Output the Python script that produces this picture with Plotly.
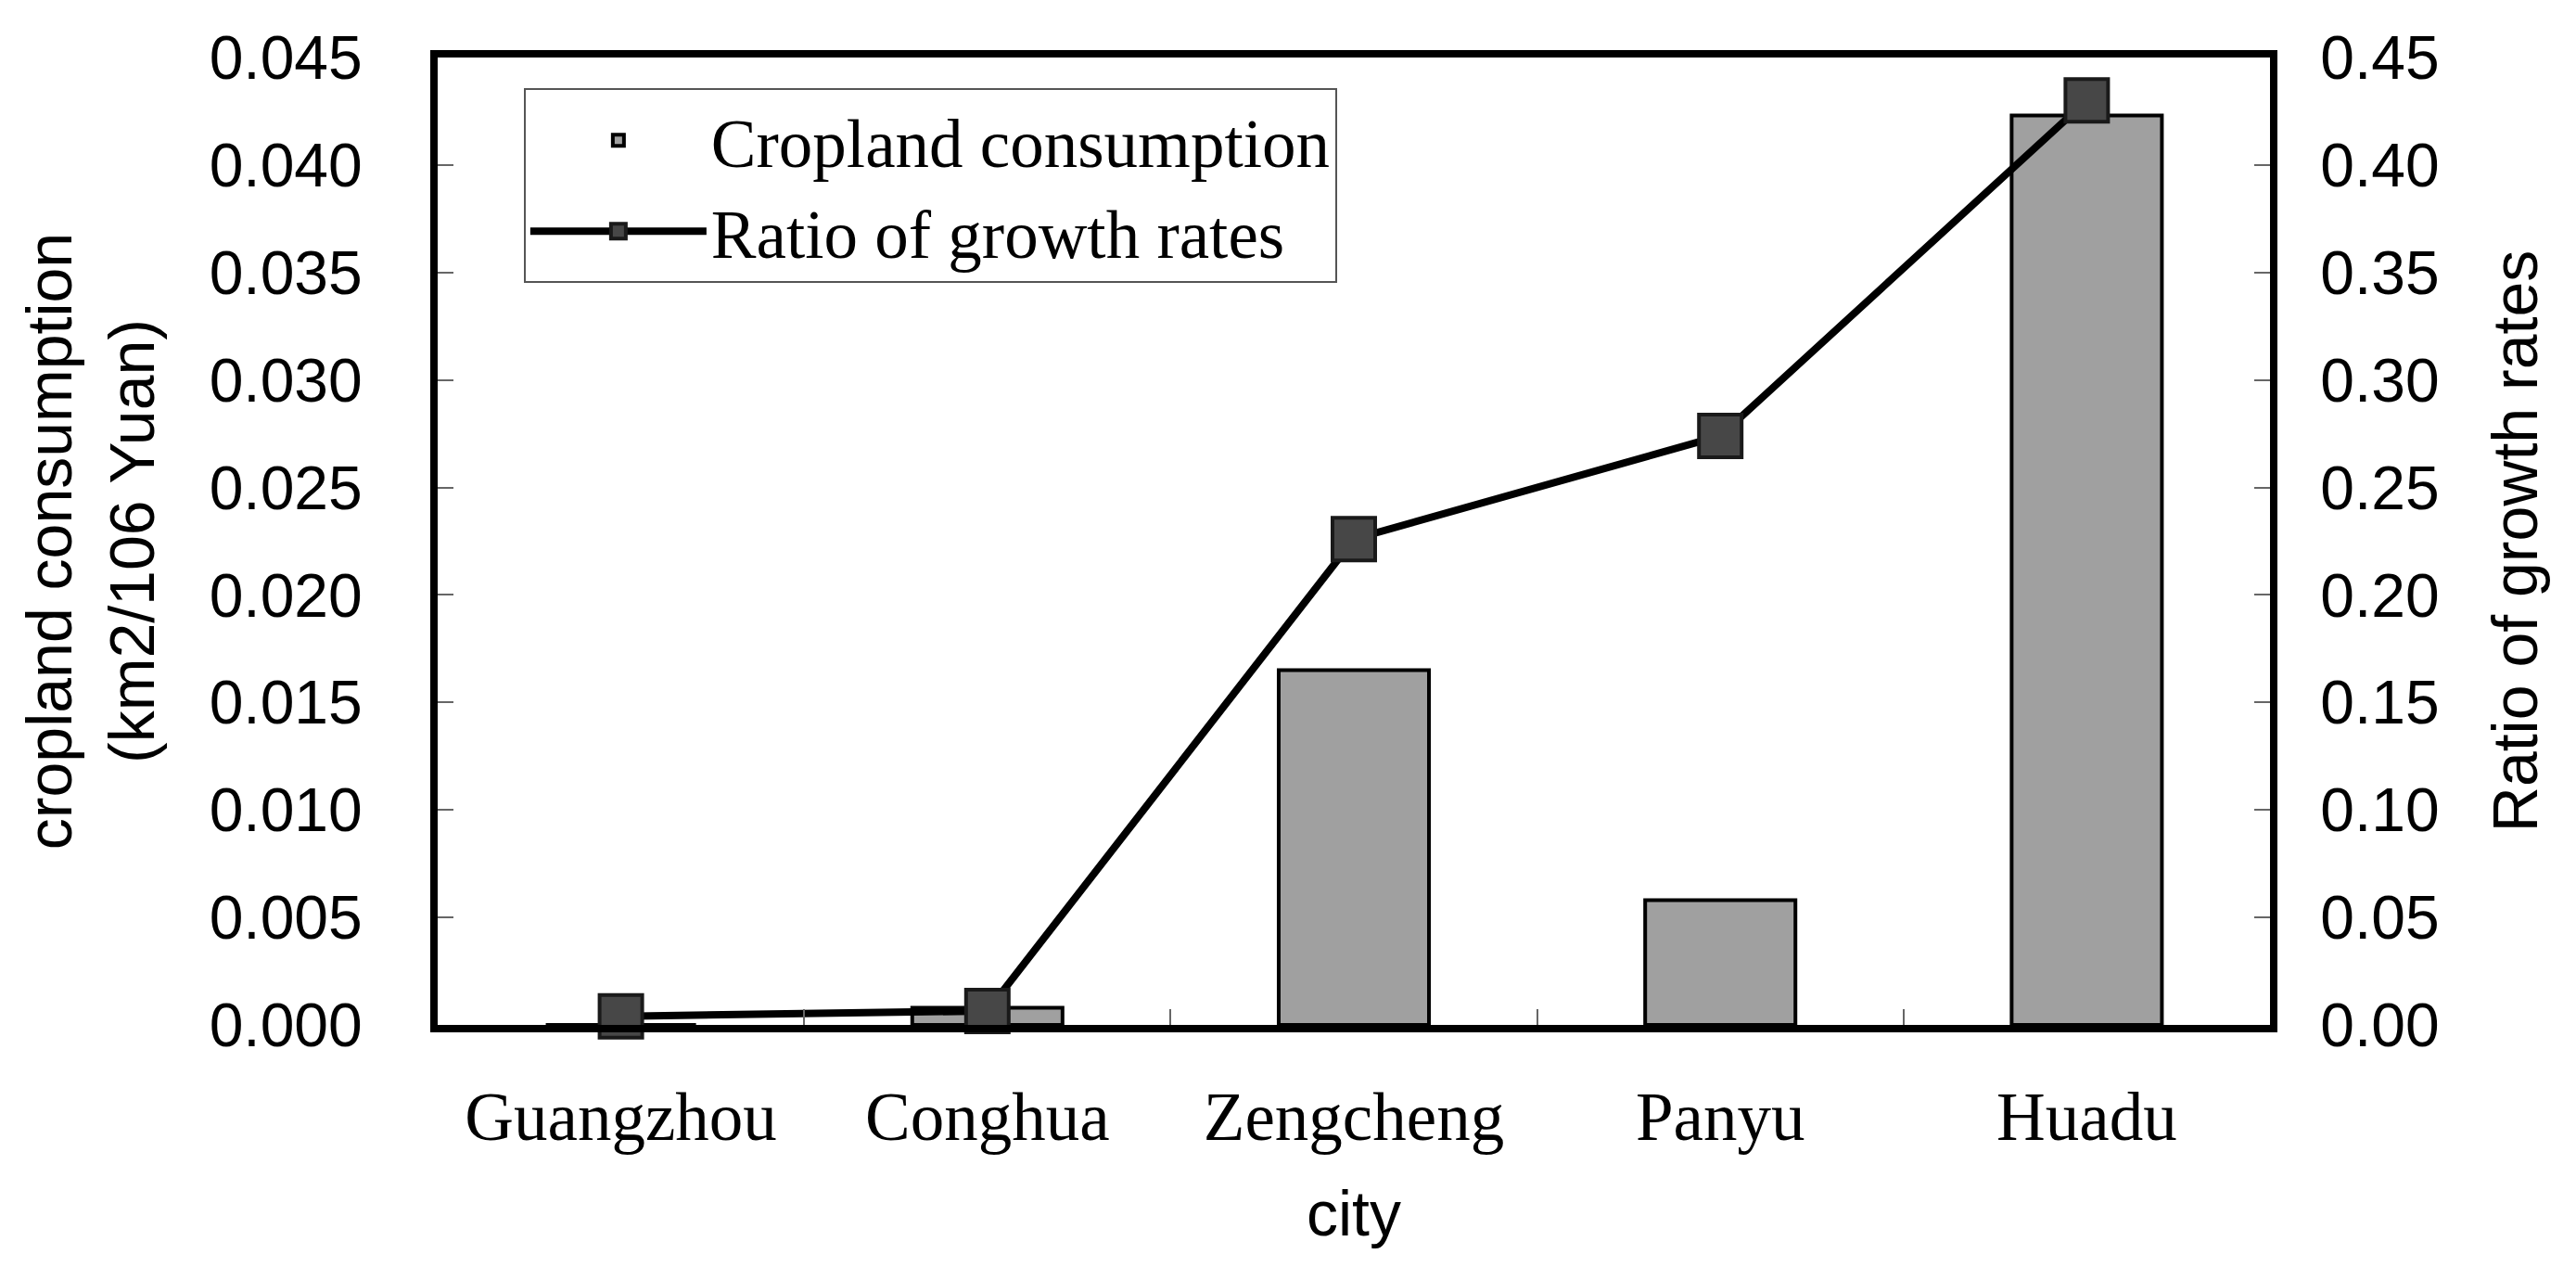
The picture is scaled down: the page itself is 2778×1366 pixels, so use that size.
import plotly.graph_objects as go

cities = ["Guangzhou", "Conghua", "Zengcheng", "Panyu", "Huadu"]
cropland_consumption = [0.0, 0.0008, 0.0165, 0.0058, 0.0423]
ratio_growth_rates = [0.004, 0.0065, 0.226, 0.274, 0.430]
left_ticks = [0.000, 0.005, 0.010, 0.015, 0.020, 0.025, 0.030, 0.035, 0.040, 0.045]
right_ticks = [0.00, 0.05, 0.10, 0.15, 0.20, 0.25, 0.30, 0.35, 0.40, 0.45]

W, H = 2778, 1366
tick_font = dict(family="Liberation Sans, Arial", size=66, color="black")
title_font = dict(family="Liberation Sans, Arial", size=68, color="black")
serif_font = dict(family="Liberation Serif, Times New Roman", size=73, color="black")

fig = go.Figure()
fig.add_trace(go.Bar(
    x=cities, y=cropland_consumption, name="Cropland consumption",
    width=0.41,
    marker=dict(color="#A0A0A0", line=dict(color="black", width=4)),
    yaxis="y",
))
fig.add_trace(go.Scatter(
    x=cities, y=ratio_growth_rates, name="Ratio of growth rates",
    mode="lines+markers", yaxis="y2", cliponaxis=False,
    line=dict(color="black", width=8),
    marker=dict(symbol="square", size=46, color="#474747",
                line=dict(color="#1a1a1a", width=4)),
))

fig.update_layout(
    width=W, height=H,
    margin=dict(l=464, r=338, t=54, b=269),
    paper_bgcolor="white", plot_bgcolor="white",
    showlegend=True,
    legend=dict(
        x=0.047, y=0.968, xanchor="left", yanchor="top",
        bgcolor="white", bordercolor="#555555", borderwidth=2,
        font=serif_font, itemwidth=190, entrywidth=780, entrywidthmode="pixels",
    ),
    xaxis=dict(
        type="category", range=[-0.5, 4.5],
        showline=True, linecolor="black", linewidth=8, mirror=True,
        ticks="inside", tickson="boundaries", ticklen=17, tickwidth=1.5,
        tickcolor="#666666", tickfont=serif_font, ticklabelstandoff=28,
        showgrid=False, zeroline=False,
        title=dict(text="city", font=title_font, standoff=44),
    ),
    yaxis=dict(
        range=[0, 0.045], tickvals=left_ticks,
        ticktext=[f"{v:.3f}" for v in left_ticks],
        showline=True, linecolor="black", linewidth=8,
        ticks="inside", ticklen=17, tickwidth=1.5, tickcolor="#666666",
        tickfont=tick_font, ticklabelstandoff=60,
        showgrid=False, zeroline=False,
        title=dict(text="cropland consumption<br>(km2/106 Yuan)", font=title_font, standoff=40),
    ),
    yaxis2=dict(
        range=[0, 0.45], tickvals=right_ticks,
        ticktext=[f"{v:.2f}" for v in right_ticks],
        overlaying="y", side="right",
        showline=True, linecolor="black", linewidth=8,
        ticks="inside", ticklen=17, tickwidth=1.5, tickcolor="#666666",
        tickfont=tick_font, ticklabelstandoff=33,
        showgrid=False, zeroline=False,
        title=dict(text="Ratio of growth rates", font=title_font, standoff=62),
    ),
)

fig.write_html("out.html")
